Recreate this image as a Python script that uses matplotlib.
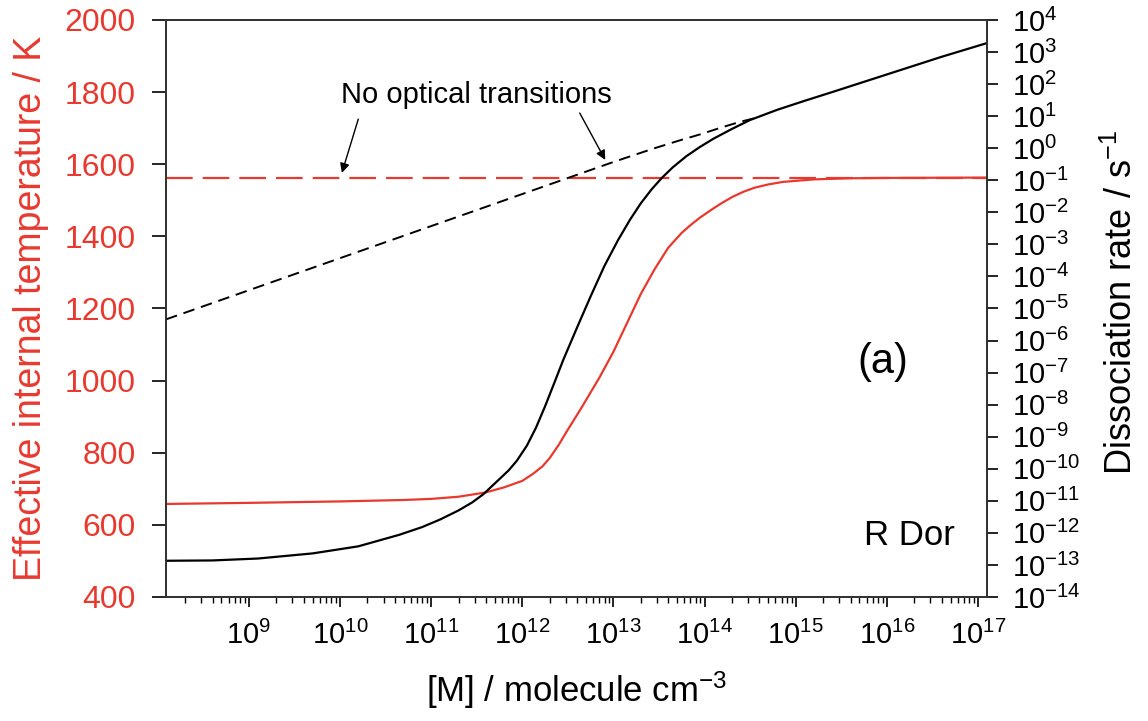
import matplotlib
matplotlib.use("Agg")
import matplotlib.pyplot as plt
import matplotlib.ticker as ticker
import numpy as np

plt.rcParams['font.family'] = ['Liberation Sans', 'DejaVu Sans']
plt.rcParams['mathtext.fontset'] = 'custom'
plt.rcParams['mathtext.rm'] = 'Liberation Sans'
plt.rcParams['mathtext.it'] = 'Liberation Sans:italic'
plt.rcParams['mathtext.bf'] = 'Liberation Sans:bold'

RED = '#e8392f'

# effective internal temperature (left axis)
logm_temp = [8.09, 9.0, 10.0, 10.7, 11.0, 11.3, 11.6, 11.8, 12.0, 12.12, 12.22,
             12.3, 12.4, 12.49, 12.65, 12.85, 13.0, 13.15, 13.3, 13.45, 13.6,
             13.75, 13.85, 13.95, 14.1, 14.2, 14.31, 14.43, 14.55, 14.7, 14.86,
             15.2, 15.6, 16.0, 17.1]
temp_solid = [658, 661, 665, 669, 672, 678, 690, 704, 722, 742, 762,
              785, 822, 860, 925, 1010, 1080, 1160, 1240, 1308, 1368,
              1410, 1432, 1452, 1478, 1494, 1510, 1524, 1535, 1544, 1551,
              1558, 1561, 1562, 1563]
temp_noopt = 1562

# dissociation rate (right axis, log10 s^-1)
logm_rate = [8.09, 8.6, 9.1, 9.7, 10.2, 10.65, 10.9, 11.1, 11.3, 11.45, 11.57,
             11.75, 11.85, 11.94, 12.05, 12.15, 12.25, 12.35, 12.45, 12.6, 12.75,
             12.9, 13.05, 13.18, 13.3, 13.42, 13.53, 13.65, 13.8, 13.95, 14.1,
             14.3, 14.5, 14.8, 15.1, 15.4, 16.0, 16.6, 17.1]
lograte_solid = [-12.87, -12.86, -12.8, -12.64, -12.42, -12.06, -11.82, -11.58,
                 -11.3, -11.05, -10.8, -10.32, -10.05, -9.75, -9.28, -8.72,
                 -8.05, -7.33, -6.6, -5.6, -4.62, -3.68, -2.87, -2.24, -1.72,
                 -1.28, -0.93, -0.6, -0.25, 0.04, 0.3, 0.6, 0.88, 1.2, 1.48,
                 1.75, 2.3, 2.85, 3.28]
logm_noopt = [8.09, 9.0, 10.0, 11.0, 12.0, 13.0, 13.43, 13.7, 13.95, 14.2, 14.4, 14.6]
lograte_noopt = [-5.34, -4.43, -3.43, -2.43, -1.43, -0.43, -0.02, 0.22, 0.43,
                 0.66, 0.83, 0.97]

m_temp = 10.0 ** np.array(logm_temp)
m_rate = 10.0 ** np.array(logm_rate)
m_noopt = 10.0 ** np.array(logm_noopt)

fig = plt.figure(figsize=(11.48, 7.21), dpi=100)
ax = fig.add_axes([0.1446, 0.172, 0.7152, 0.8003])
ax2 = ax.twinx()

# black curves on the rate axis
ax2.plot(m_rate, 10.0 ** np.array(lograte_solid), color='black', lw=1.6)
ax2.plot(m_noopt, 10.0 ** np.array(lograte_noopt), color='black', lw=1.4,
         dashes=(6, 3.5))

# red curves on the temperature axis
ax.plot([m_temp[0], m_temp[-1]], [temp_noopt, temp_noopt], color=RED, lw=1.6,
        dashes=(12, 4.5))
ax.plot(m_temp, temp_solid, color=RED, lw=1.6)

ax.set_xscale('log')
ax.set_xlim(m_temp[0], m_temp[-1])
ax.set_ylim(400, 2000)
ax.set_yticks(np.arange(400, 2001, 200))
ax.xaxis.set_major_locator(ticker.LogLocator(base=10, numticks=20))
ax.xaxis.set_minor_locator(ticker.LogLocator(base=10, subs=np.arange(2, 10), numticks=20))
ax.xaxis.set_minor_formatter(ticker.NullFormatter())

ax2.set_yscale('log')
ax2.set_ylim(1e-14, 1e4)
ax2.set_yticks([10.0 ** k for k in range(-14, 5)])
ax2.yaxis.set_minor_locator(ticker.NullLocator())

ax.tick_params(axis='y', labelcolor=RED, labelsize=23, length=10, width=1.2, pad=12)
ax.tick_params(axis='x', which='major', labelsize=21, length=7, width=1.2, pad=10)
ax.tick_params(axis='x', which='minor', length=4, width=1.0)
ax2.tick_params(axis='y', labelsize=21, length=8, width=1.2, pad=10)

for a in (ax, ax2):
    for s in a.spines.values():
        s.set_color('#333333')
        s.set_linewidth(1.3)

ax.set_ylabel('Effective internal temperature / K', color=RED, fontsize=27)
ax.yaxis.set_label_coords(-0.142, 0.5)
ax2.set_ylabel('Dissociation rate / s$^{-1}$', fontsize=26)
ax2.yaxis.set_label_coords(1.142, 0.51)
ax.set_xlabel('[M] / molecule cm$^{-3}$', fontsize=25)
ax.xaxis.set_label_coords(0.5, -0.125)

ax.text(0.873, 0.407, '(a)', transform=ax.transAxes, fontsize=30,
        ha='center', va='center')
ax.text(0.906, 0.107, 'R Dor', transform=ax.transAxes, fontsize=25,
        ha='center', va='center')

ax.text(10 ** 11.5, 1792, 'No optical transitions', fontsize=21,
        ha='center', va='center')
arrow = dict(arrowstyle='-|>', color='black', lw=1.0, mutation_scale=14,
             shrinkA=0, shrinkB=0)
ax.annotate('', xy=(10 ** 10.02, 1576), xytext=(10 ** 10.2, 1725), arrowprops=arrow)
ax.annotate('', xy=(10 ** 12.91, 1612), xytext=(10 ** 12.63, 1742), arrowprops=arrow)

fig.savefig('out.png', dpi=100)
